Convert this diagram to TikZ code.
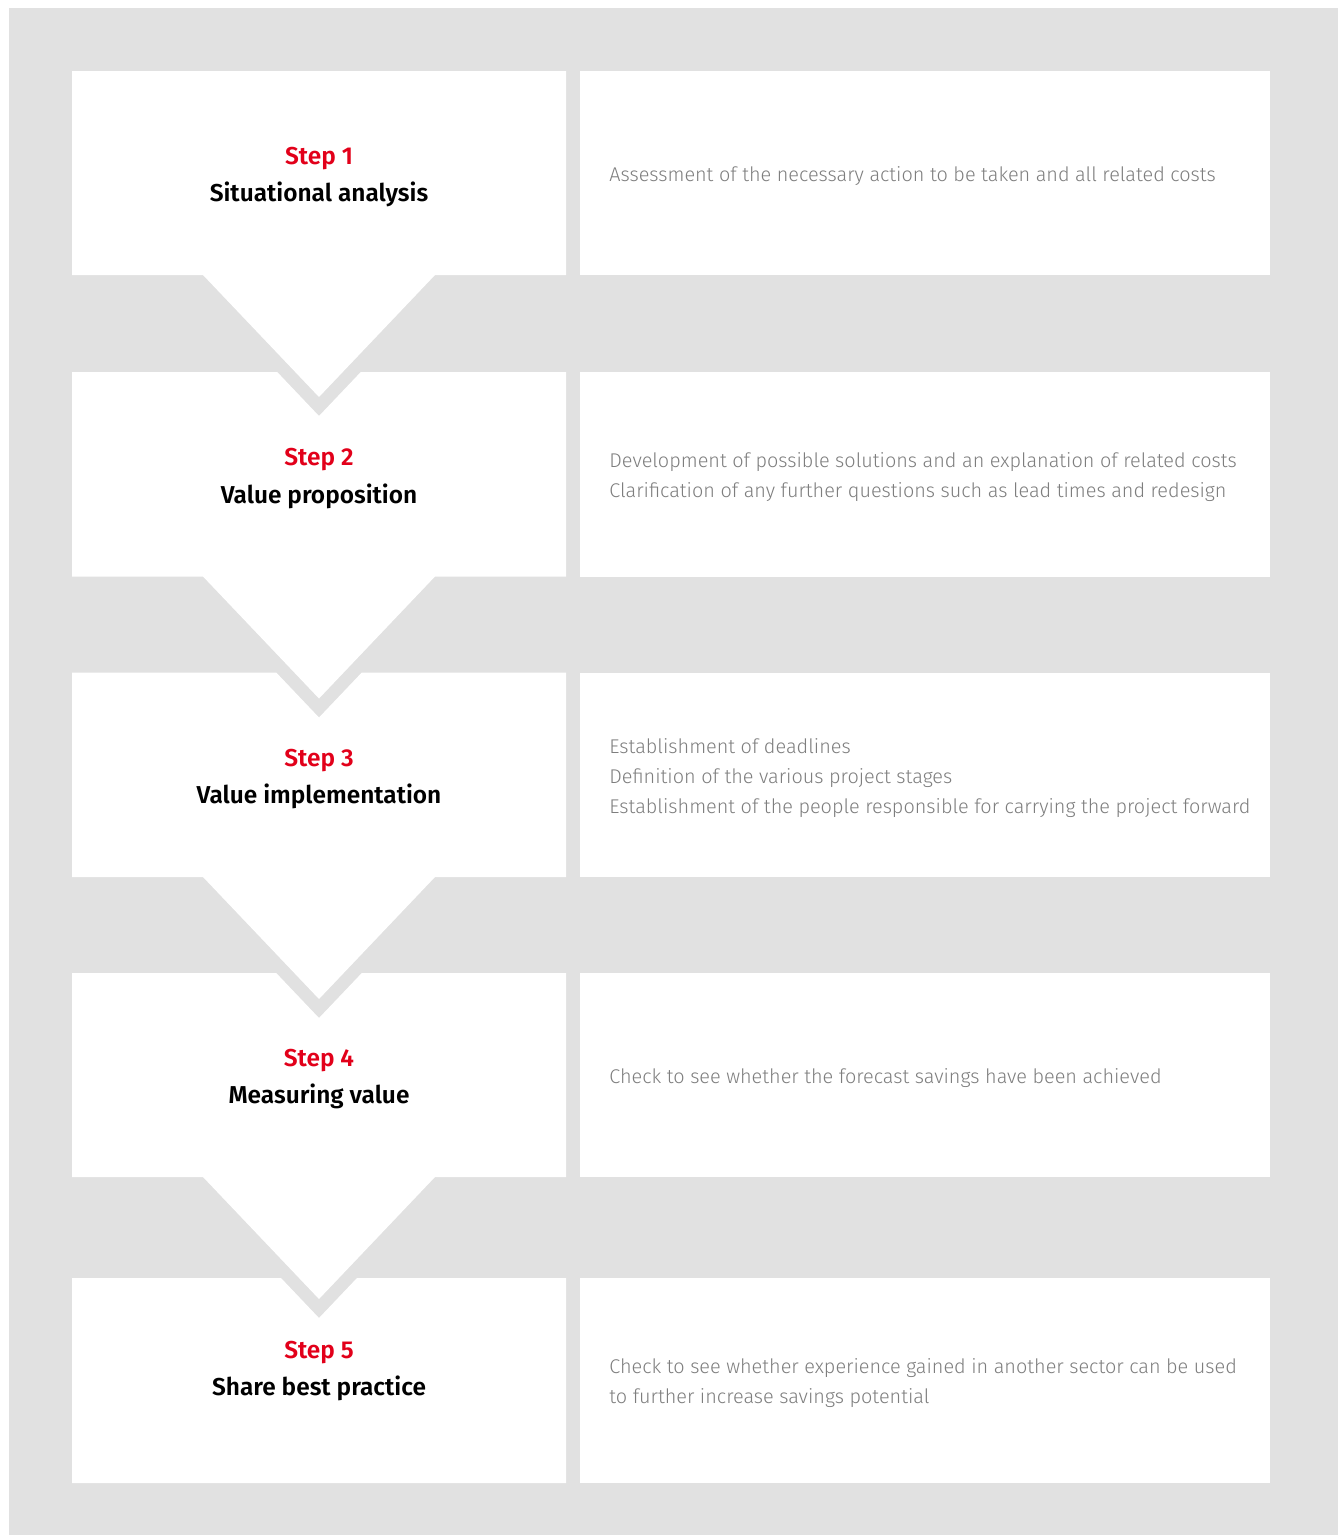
\documentclass[tikz,border=0pt]{standalone}
\usepackage{fontspec}
\setmainfont{Fira Sans}
\newfontfamily\lightfont{Fira Sans Light}
\newfontfamily\stepfont{Fira Sans SemiBold}
\definecolor{backgray}{HTML}{E1E1E1}
\definecolor{stepred}{HTML}{E2001A}
\definecolor{descgray}{HTML}{7E7E7E}
\begin{document}
\begin{tikzpicture}[x=0.02cm,y=-0.02cm,
  panel/.style={fill=white},
  steptext/.style={align=center,inner sep=0pt,font=\stepfont\fontsize{13.9}{21.5}\selectfont},
  desctext/.style={anchor=west,align=left,inner sep=0pt,text=descgray,font=\lightfont\fontsize{11.3}{17}\selectfont},]
\useasboundingbox (0,0) rectangle (1338,1535);
\fill[backgray] (9,8) rectangle (1338,1535);
% left panels with chevrons
\fill[panel] (72,71) -- (566,71) -- (566,275) -- (435,275) -- (319,397) -- (203,275) -- (72,275) -- cycle;
\fill[panel] (72,372) -- (277.2,372) -- (319,416) -- (360.8,372) -- (566,372) -- (566,576.5) -- (435,576.5) -- (319,698.5) -- (203,576.5) -- (72,576.5) -- cycle;
\fill[panel] (72,672.5) -- (276.2,672.5) -- (319,717.5) -- (361.8,672.5) -- (566,672.5) -- (566,877) -- (435,877) -- (319,999) -- (203,877) -- (72,877) -- cycle;
\fill[panel] (72,973) -- (276.2,973) -- (319,1018) -- (361.8,973) -- (566,973) -- (566,1177) -- (435,1177) -- (319,1299) -- (203,1177) -- (72,1177) -- cycle;
\fill[panel] (72,1278) -- (281,1278) -- (319,1318) -- (357,1278) -- (566,1278) -- (566,1483) -- (72,1483) -- cycle;
% right panels
\fill[panel] (580,71) rectangle (1270,275);
\fill[panel] (580,372) rectangle (1270,576.5);
\fill[panel] (580,672.5) rectangle (1270,877);
\fill[panel] (580,973) rectangle (1270,1177);
\fill[panel] (580,1278) rectangle (1270,1483);
% steps
\node (s1) [steptext] at (319,177) {\textcolor{stepred}{Step 1}\\Situational analysis};
\node (s2) [steptext] at (319,478.5) {\textcolor{stepred}{Step 2}\\Value proposition};
\node (s3) [steptext] at (319,779) {\textcolor{stepred}{Step 3}\\Value implementation};
\node (s4) [steptext] at (319,1079) {\textcolor{stepred}{Step 4}\\Measuring value};
\node (s5) [steptext] at (319,1371) {\textcolor{stepred}{Step 5}\\Share best practice};
% descriptions
\node (d1) [desctext] at (609,176) {Assessment of the necessary action to be taken and all related costs};
\node (d2) [desctext] at (609,477) {Development of possible solutions and an explanation of related costs\\Clarification of any further questions such as lead times and redesign};
\node (d3) [desctext] at (609,778) {Establishment of deadlines\\Definition of the various project stages\\Establishment of the people responsible for carrying the project forward};
\node (d4) [desctext] at (609,1078) {Check to see whether the forecast savings have been achieved};
\node (d5) [desctext] at (609,1383) {Check to see whether experience gained in another sector can be used\\to further increase savings potential};
\end{tikzpicture}
\end{document}
